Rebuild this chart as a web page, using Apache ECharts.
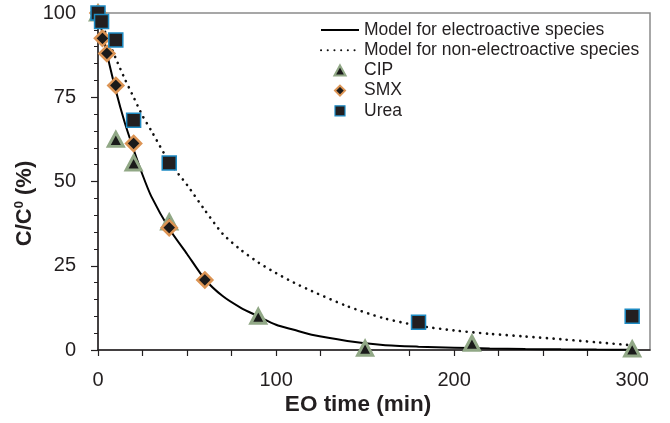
<!DOCTYPE html>
<html>
<head>
<meta charset="utf-8">
<script src="https://cdn.jsdelivr.net/npm/echarts@6/dist/echarts.min.js"></script>
<style>
  html, body { margin: 0; padding: 0; background: #fff; }
  #chart { width: 670px; height: 423px; }
</style>
</head>
<body>
<div id="chart"></div>
<script>
  // measured points (EO time in min, C/C0 in %)
  var cipTime = [0, 10, 20, 40, 90, 150, 210, 300]
  var cipValue = [100, 62.5, 55.5, 38, 10, 0.5, 2, 0.3]
  var smxTime = [0, 2.5, 5, 10, 20, 40, 60]
  var smxValue = [100, 92.5, 88, 78.5, 61.3, 36.3, 20.8]
  var ureaTime = [0, 2, 10, 20, 40, 180, 300]
  var ureaValue = [100, 97.5, 92, 68.2, 55.5, 8.2, 10]

  // model curves
  var modelTime = [0, 5, 10, 15, 20, 25, 30, 40, 50, 60, 70, 80, 90, 100, 110, 120, 140, 160, 180, 200, 220, 240, 260, 280, 300]
  var electroModel = [100, 88, 77, 67.5, 59.5, 52, 45.5, 36, 28.5, 21, 16, 12.6, 10, 7.5, 6, 4.5, 2.7, 1.5, 1, 0.7, 0.45, 0.3, 0.2, 0.12, 0.08]
  var nonElectroModel = [100, 93, 86.5, 80.5, 75, 69.5, 65, 55.8, 49, 41.5, 34.5, 29.8, 26, 22.8, 20, 17.5, 13, 9.5, 7.2, 5.8, 4.8, 4, 3.2, 2.3, 1.4]

  var yTicks = [0, 25, 50, 75, 100]
  var xLabels = [0, 100, 200, 300]

  function pairs(xs, ys) {
    var out = []
    for (var i = 0; i < xs.length; i++) {
      out.push([xs[i], ys[i]])
    }
    return out
  }

  var textColor = '#231f20'
  var font = '"Liberation Sans", Arial, Helvetica, sans-serif'

  var chart = echarts.init(document.getElementById('chart'))
  chart.setOption({
    backgroundColor: '#fff',
    animation: false,
    textStyle: { fontFamily: font },
    grid: {
      left: 98,
      right: 20,
      top: 13,
      bottom: 73,
      show: true,
      borderColor: '#8a8a8a',
      borderWidth: 1.5,
    },
    legend: {
      left: 315,
      top: 16,
      orient: 'vertical',
      align: 'left',
      itemWidth: 38,
      itemHeight: 10,
      itemGap: 2.2,
      symbolKeepAspect: true,
      textStyle: {
        fontSize: 17.5,
        lineHeight: 17.5,
        color: textColor,
        fontFamily: font,
      },
      data: [
        { name: 'Model for electroactive species', itemStyle: { opacity: 0 } },
        { name: 'Model for non-electroactive species', itemStyle: { opacity: 0 } },
        { name: 'CIP', icon: 'path://M5,0L10,9L0,9Z', itemStyle: { borderWidth: 2 } },
        { name: 'SMX', icon: 'path://M5,0L10,5L5,10L0,5Z', itemStyle: { borderWidth: 2 } },
        { name: 'Urea', icon: 'path://M0,0H10V10H0Z', itemStyle: { borderWidth: 1.2 } },
      ],
    },
    xAxis: {
      type: 'value',
      min: 0,
      max: 310,
      interval: 25,
      name: 'EO time (min)',
      nameLocation: 'middle',
      nameGap: 43,
      nameMoveOverlap: false,
      nameTextStyle: {
        fontSize: 22.5,
        fontWeight: 'bold',
        color: textColor,
        fontFamily: font,
        padding: [0, 32, 0, 0],
      },
      axisLine: { lineStyle: { color: textColor, width: 1.5 } },
      axisTick: { show: true, length: 6, inside: false, lineStyle: { color: textColor, width: 1.2 } },
      axisLabel: {
        margin: 20,
        fontSize: 20,
        color: textColor,
        fontFamily: font,
        showMaxLabel: false,
        formatter: function (v) {
          return xLabels.indexOf(v) >= 0 ? String(v) : ''
        },
      },
      splitLine: { show: false },
    },
    yAxis: {
      type: 'value',
      min: 0,
      max: 100,
      interval: 25,
      name: '{t|C/C}{s|0}{t| (%)}',
      nameLocation: 'middle',
      nameGap: 61,
      nameRotate: 90,
      nameMoveOverlap: false,
      nameTextStyle: {
        color: textColor,
        fontFamily: font,
        padding: [0, 44, 0, 0],
        rich: {
          t: { fontSize: 22, fontWeight: 'bold', color: textColor, fontFamily: font, lineHeight: 24 },
          s: { fontSize: 13, fontWeight: 'bold', color: textColor, fontFamily: font, verticalAlign: 'top', lineHeight: 24 },
        },
      },
      axisLine: { show: true, lineStyle: { color: textColor, width: 1.5 } },
      axisTick: { show: true, length: 7, lineStyle: { color: textColor, width: 1.2 } },
      minorTick: { show: true, splitNumber: 5, length: 4, lineStyle: { color: textColor, width: 1 } },
      axisLabel: {
        margin: 22,
        fontSize: 20,
        color: textColor,
        fontFamily: font,
        formatter: function (v) {
          return yTicks.indexOf(v) >= 0 ? String(v) : ''
        },
      },
      splitLine: { show: false },
    },
    series: [
      {
        name: 'Model for electroactive species',
        type: 'line',
        data: pairs(modelTime, electroModel),
        smooth: 0.25,
        symbol: 'none',
        color: '#000',
        lineStyle: { color: '#000', width: 2 },
        z: 2,
      },
      {
        name: 'Model for non-electroactive species',
        type: 'line',
        data: pairs(modelTime, nonElectroModel),
        smooth: 0.25,
        symbol: 'none',
        color: '#000',
        lineStyle: { color: '#111', width: 2.6, type: [0.1, 6.6], cap: 'round' },
        z: 2,
      },
      {
        name: 'CIP',
        type: 'scatter',
        data: pairs(cipTime, cipValue),
        symbol: 'triangle',
        symbolSize: [15, 14],
        clip: false,
        itemStyle: { color: '#1a1a1a', borderColor: '#91a886', borderWidth: 3, opacity: 1 },
        z: 3,
      },
      {
        name: 'SMX',
        type: 'scatter',
        data: pairs(smxTime, smxValue),
        symbol: 'diamond',
        symbolSize: 15,
        clip: false,
        itemStyle: { color: '#1a1a1a', borderColor: '#dc9454', borderWidth: 2.5, opacity: 1 },
        z: 4,
      },
      {
        name: 'Urea',
        type: 'scatter',
        data: pairs(ureaTime, ureaValue),
        symbol: 'rect',
        symbolSize: 14,
        clip: false,
        itemStyle: { color: '#231f20', borderColor: '#1e8bc3', borderWidth: 1.5, opacity: 1 },
        z: 5,
      },
    ],
  })
</script>
</body>
</html>
